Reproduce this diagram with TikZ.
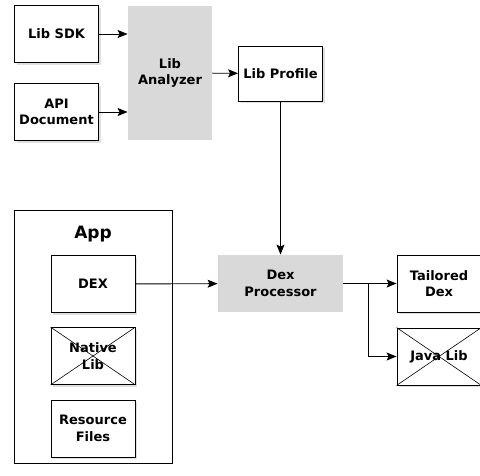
\documentclass[tikz,border=0pt]{standalone}
\usepackage{fontspec}
\setmainfont{DejaVu Sans}
\usetikzlibrary{arrows,arrows.meta,shadows}

\begin{document}
\begin{tikzpicture}[x=1pt,y=-1pt,->,>={Stealth[length=10pt,width=8pt,inset=2pt]},thick,
  font=\fontsize{13}{16.5}\selectfont\bfseries,
  box node/.style={rectangle,draw,fill=white,line width=0.9pt,align=center,
    minimum width=84pt,minimum height=57pt,inner sep=1pt,
    drop shadow={shadow xshift=2pt,shadow yshift=-2pt,opacity=0.25}},
  gray node/.style={rectangle,fill=black!15,align=center,inner sep=1pt}]
  \useasboundingbox (0,0) rectangle (480,475);
  % app container
  \node[draw,line width=0.7pt,minimum width=158pt,minimum height=253pt] (app) at (93,336.5) {};
  \node[font=\fontsize{17}{20}\selectfont\bfseries] (apptitle) at (93,234) {App};
  \node[box node] (sdk) at (56.5,34) {Lib SDK};
  \node[box node] (api) at (56.5,112) {API\\Document};
  \node[gray node,minimum width=84pt,minimum height=134pt] (analyzer) at (170,73) {Lib\\Analyzer};
  \node[box node,minimum height=55pt] (profile) at (280.5,73.5) {Lib Profile};
  \node[box node] (dex) at (93,284) {DEX};
  \node[box node] (native) at (93,356) {Native\\Lib};
  \node[box node] (res) at (93,428.5) {Resource\\Files};
  \node[gray node,minimum width=125pt,minimum height=57pt] (proc) at (280.5,283.5) {Dex\\Processor};
  \node[box node] (tailored) at (439,283.5) {Tailored\\Dex};
  \node[box node] (javalib) at (439,356.5) {Java Lib};
  \coordinate (split) at (368,283.5);
  % crossed out parts
  \draw[-,line width=0.6pt] (native.north west) -- (native.south east)
    (native.south west) -- (native.north east);
  \draw[-,line width=0.6pt] (javalib.north west) -- (javalib.south east)
    (javalib.south west) -- (javalib.north east);
  \path[line width=0.9pt]
    (sdk) edge (sdk -| analyzer.west)
    (api) edge (api -| analyzer.west)
    (analyzer) edge (profile)
    (profile) edge (proc)
    (dex) edge (proc)
    (proc) edge (tailored);
  \draw[line width=0.9pt] (split) |- (javalib.west);
\end{tikzpicture}
\end{document}
